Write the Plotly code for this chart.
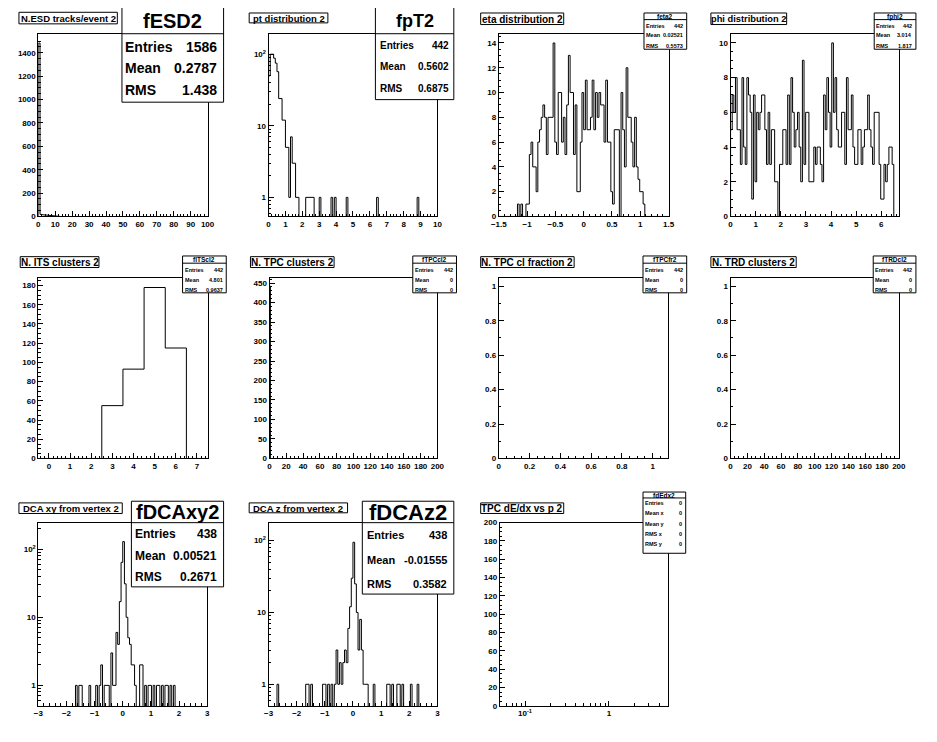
import numpy as np
import plotly.graph_objects as go

# page is shown with an 8 px body margin, so the figure is offset by 8 px
OFF = 8
W, H = 937 - OFF, 742 - OFF
FONT = "Liberation Sans"

# ---------------- values ----------------
# each histogram: (low edge, bin width) and bin contents
esd_bin = (0.0, 1.0)
esd_counts = [1483, 18, 15, 13, 12, 10, 9, 8, 6, 5, 4, 2, 1]

pt_bin = (0.0, 0.1)
pt_counts = [50, 100, 100, 88, 75, 57, 24, 24, 12, 12,
             5, 5, 1, 7, 3, 3, 1, 1, 0, 0,
             0, 0, 1, 1, 1, 1, 1, 0, 0, 0,
             1, 0, 0, 0, 0, 0, 0, 1, 0, 1,
             0, 0, 0, 0, 0, 0, 1, 0, 0, 0,
             0, 0, 0, 0, 0, 0, 0, 0, 0, 0,
             0, 0, 0, 0, 1, 0, 0, 0, 0, 0,
             0, 0, 0, 0, 0, 0, 0, 0, 0, 0,
             0, 0, 0, 0, 0, 0, 0, 0, 1, 0]

eta_bin = (-1.5, 0.03)
eta_counts = [0, 0, 0, 0, 0, 0, 0, 0, 0, 0,
              0, 1, 0, 1, 0, 0, 1, 1, 5, 6,
              4, 4, 2, 6, 7, 8, 9, 8, 5, 8,
              8, 8, 14, 6, 5, 10, 10, 6, 8, 5,
              9, 13, 10, 10, 5, 9, 2, 2, 6, 10,
              7, 11, 7, 7, 8, 11, 7, 10, 8, 10,
              9, 9, 6, 11, 6, 6, 2, 1, 7, 7,
              7, 0, 10, 7, 4, 12, 8, 8, 6, 4,
              8, 4, 3, 2, 2, 1, 0, 0, 0, 0,
              0, 0, 0, 0, 0, 0, 0, 0, 0, 0]

phi_bin = (0.0, 0.065)
phi_counts = [5, 7, 6, 8, 5, 5, 3, 8, 4, 3,
              8, 7, 6, 1, 7, 2, 6, 5, 6, 7,
              7, 5, 3, 6, 3, 5, 5, 2, 2, 0,
              3, 3, 5, 5, 3, 7, 3, 8, 6, 4,
              5, 6, 4, 2, 9, 3, 6, 6, 2, 2,
              2, 4, 3, 4, 4, 3, 2, 7, 5, 8,
              6, 4, 10, 6, 8, 5, 4, 4, 6, 6,
              3, 8, 5, 5, 7, 4, 3, 3, 5, 5,
              3, 4, 5, 5, 7, 5, 4, 3, 6, 6,
              6, 3, 1, 1, 3, 2, 3, 4, 4, 3]

its_bin = (-0.5, 1.0)
its_counts = [0, 0, 0, 55, 93, 178, 115, 0]

tpccl_bin = (0.0, 1.0)
tpccl_counts = [442]

dcaxy_bin = (-3.0, 0.06)
dcaxy_counts = [0, 0, 0, 0, 0, 0, 0, 0, 0, 0,
                0, 0, 0, 0, 0, 0, 0, 0, 0, 0,
                0, 0, 1, 0, 1, 1, 0, 0, 0, 0,
                1, 0, 0, 0, 1, 0, 1, 2, 0, 1,
                1, 1, 0, 3, 1, 1, 6, 4, 17, 64,
                129, 31, 10, 5, 4, 2, 2, 1, 0, 0,
                2, 2, 0, 1, 0, 1, 1, 0, 1, 0,
                1, 1, 0, 1, 0, 1, 1, 0, 1, 0,
                1, 0, 0, 0, 0, 0, 0, 0, 0, 0,
                0, 0, 0, 0, 0, 0, 0, 0, 0, 0]

dcaz_bin = (-3.0, 0.06)
dcaz_counts = [0, 0, 0, 0, 0, 1, 0, 0, 0, 0,
               0, 0, 0, 0, 0, 0, 0, 0, 0, 0,
               0, 0, 1, 1, 0, 1, 0, 0, 0, 0,
               0, 0, 1, 1, 0, 1, 0, 1, 0, 1,
               3, 1, 2, 1, 2, 3, 2, 6, 12, 30,
               95, 25, 10, 3, 8, 3, 1, 1, 1, 0,
               0, 0, 1, 0, 0, 0, 0, 0, 0, 0,
               1, 1, 0, 1, 0, 0, 1, 1, 0, 1,
               0, 0, 0, 0, 1, 0, 0, 0, 1, 0,
               0, 0, 0, 0, 0, 0, 0, 0, 0, 0]

titles = ["N.ESD tracks/event 2", "pt distribution 2", "eta distribution 2",
          "phi distribution 2", "N. ITS clusters 2", "N. TPC clusters 2",
          "N. TPC cl fraction 2", "N. TRD clusters 2", "DCA xy from vertex 2",
          "DCA z from vertex 2", "TPC dE/dx vs p 2"]

stat_names = ["fESD2", "fpT2", "feta2", "fphi2", "fITScl2", "fTPCcl2",
              "fTPCfr2", "fTRDcl2", "fDCAxy2", "fDCAz2", "fdEdx2"]
stat_rows = [
    [("Entries", "1586"), ("Mean", "0.2787"), ("RMS", "1.438")],
    [("Entries", "442"), ("Mean", "0.5602"), ("RMS", "0.6875")],
    [("Entries", "442"), ("Mean", "0.02521"), ("RMS", "0.5573")],
    [("Entries", "442"), ("Mean", "3.014"), ("RMS", "1.817")],
    [("Entries", "442"), ("Mean", "4.801"), ("RMS", "0.9637")],
    [("Entries", "442"), ("Mean", "0"), ("RMS", "0")],
    [("Entries", "442"), ("Mean", "0"), ("RMS", "0")],
    [("Entries", "442"), ("Mean", "0"), ("RMS", "0")],
    [("Entries", "438"), ("Mean", "0.00521"), ("RMS", "0.2671")],
    [("Entries", "438"), ("Mean", "-0.01555"), ("RMS", "0.3582")],
    [("Entries", "0"), ("Mean x", "0"), ("Mean y", "0"), ("RMS x", "0"), ("RMS y", "0")],
]

# ---------------- layout geometry (window pixels) ----------------
frames = [(30.7, 202.7, 30.7, 215), (264.7, 436.3, 30.7, 215),
          (498.7, 671.3, 30.7, 215), (734.3, 905.3, 30.7, 215),
          (30.7, 202.7, 277.3, 460), (265.7, 436.3, 277.3, 460),
          (498.7, 670.7, 277.3, 460), (734.3, 905.3, 277.3, 460),
          (30.7, 202.3, 525, 710.5), (264.7, 436.3, 525, 710.5),
          (499.7, 670.3, 525, 710.5)]

title_boxes = [(11, 8.3, 111, 20, 9.5), (245, 9, 325, 19, 9.5),
               (480.3, 9, 564.7, 20.7, 10), (714.3, 9, 791.3, 20.7, 9.3),
               (12.3, 255.7, 92.3, 266.7, 10), (246.3, 255.7, 331.3, 266.7, 10),
               (480.3, 255.7, 575.3, 266.7, 10), (714.3, 255.7, 801, 266.7, 10),
               (11, 505, 116, 515.7, 9.5), (245, 505, 345, 515, 9.5),
               (480.3, 505, 564.7, 515.7, 10)]

small_rows = lambda y0: [y0 + 12.7, y0 + 22.7, y0 + 33.2]
# box x0,y0,x1,y1, header bottom, header size, row size, row centres, label pad, value pad
stat_boxes = [
    (115.7, 3.3, 219, 99.3, 30, 20, 14, [43, 65, 87.3], 2.5, 6),
    (373.3, 3.3, 453, 96.7, 30, 18, 10, [41.7, 62.7, 85], 4, 4),
    (646.3, 9, 689.7, 45.7, 15.7, 6.5, 5.5, small_rows(9), 1.2, 2.5),
    (880.3, 9, 922.7, 45.7, 15.7, 6.5, 5.5, small_rows(9), 1.2, 2.5),
    (177.3, 255, 221.7, 292.3, 262.3, 6.5, 5.5, small_rows(256.3), 1.2, 2.5),
    (411.3, 255, 455.7, 292.3, 262.3, 6.5, 5.5, small_rows(256.3), 1.2, 2.5),
    (645.3, 255, 689.7, 292.3, 262.3, 6.5, 5.5, small_rows(256.3), 1.2, 2.5),
    (879.3, 255, 922.7, 292.3, 262.3, 6.5, 5.5, small_rows(256.3), 1.2, 2.5),
    (125.3, 503.3, 219, 590, 525, 20, 12, [536.7, 558.3, 580], 2.5, 6),
    (360, 503.3, 453, 597.3, 525, 22, 11, [537.3, 562.3, 586.7], 4, 6),
    (645.3, 494, 688.7, 556, 500, 6.5, 5.5, [505.5, 515.7, 526.3, 536.7, 547], 1.2, 2.5),
]

tickfont = dict(family=FONT, size=8, color="black", weight="bold")


def px_x(p):
    return (p - OFF) / W


def px_y(p):
    return 1 - (p - OFF) / H


def step_xy(bin_spec, counts, floor=0.0):
    lo, w = bin_spec
    c = np.asarray(counts, float)
    c = np.where(c > 0, c, floor)
    edges = lo + w * np.arange(len(c) + 1)
    xs = np.repeat(edges, 2)
    ys = np.concatenate([[floor], np.repeat(c, 2), [floor]])
    return xs, ys


def common_axis(rng):
    return dict(range=rng, ticks="inside", tickcolor="black", tickwidth=1,
                showgrid=False, zeroline=False, showline=True, mirror=True,
                linecolor="black", linewidth=1, tickfont=tickfont)


def lin_axis(rng, dtick, mdtick, ticklen=5):
    a = common_axis(rng)
    a.update(tickmode="linear", tick0=0, dtick=dtick, ticklen=ticklen,
             minor=dict(tick0=0, dtick=mdtick, ticks="inside", ticklen=ticklen / 2,
                        tickcolor="black", tickwidth=1, showgrid=False))
    return a


def log_axis(lo, hi, majors, labels, minors, ticklen=5):
    a = common_axis([np.log10(lo), np.log10(hi)])
    a.update(type="log", tickmode="array", tickvals=majors, ticktext=labels,
             ticklen=ticklen,
             minor=dict(tickmode="array", tickvals=minors, ticks="inside",
                        ticklen=ticklen / 2, tickcolor="black", tickwidth=1,
                        showgrid=False))
    return a


log_minor = [m * d for d in (0.01, 0.1, 1, 10, 100) for m in range(2, 10)]
log_lab = ["1", "10", "10<sup>2</sup>"]

xaxes = [
    lin_axis([0, 100], 10, 2),
    lin_axis([0, 10], 1, 0.2),
    lin_axis([-1.5, 1.5], 0.5, 0.1),
    lin_axis([0, 6.7], 1, 0.2),
    lin_axis([-0.5, 7.5], 1, 0.2),
    lin_axis([0, 200], 20, 5),
    lin_axis([0, 1.1], 0.2, 0.05),
    lin_axis([0, 200], 20, 5),
    lin_axis([-3, 3], 1, 0.2),
    lin_axis([-3, 3], 1, 0.2),
    log_axis(0.05, 5, [0.1, 1], ["10<sup>-1</sup>", "1"], log_minor),
]
yaxes = [
    lin_axis([0, 1557], 200, 50),
    log_axis(0.541, 189, [1, 10, 100], log_lab, log_minor),
    lin_axis([0, 14.69], 2, 0.5),
    lin_axis([0, 10.49], 2, 0.5),
    lin_axis([0, 187.9], 20, 5),
    lin_axis([0, 463], 50, 10),
    lin_axis([0, 1.048], 0.2, 0.1),
    lin_axis([0, 1.048], 0.2, 0.1),
    log_axis(0.5, 245, [1, 10, 100], log_lab, log_minor),
    log_axis(0.5, 178, [1, 10, 100], log_lab, log_minor),
    lin_axis([0, 200], 20, 5),
]

hists = {
    1: (esd_bin, esd_counts, 0.0),
    2: (pt_bin, pt_counts, 1e-3),
    3: (eta_bin, eta_counts, 0.0),
    4: (phi_bin, phi_counts, 0.0),
    5: (its_bin, its_counts, 0.0),
    6: (tpccl_bin, tpccl_counts, 0.0),
    9: (dcaxy_bin, dcaxy_counts, 1e-3),
    10: (dcaz_bin, dcaz_counts, 1e-3),
}

fig = go.Figure()
layout = {}
for i in range(1, 12):
    sx = "" if i == 1 else str(i)
    x0, x1, y0, y1 = frames[i - 1]
    xa = xaxes[i - 1]
    ya = yaxes[i - 1]
    xa.update(domain=[px_x(x0), px_x(x1)], anchor="y" + sx)
    ya.update(domain=[px_y(y1), px_y(y0)], anchor="x" + sx)
    layout["xaxis" + sx] = xa
    layout["yaxis" + sx] = ya
    if i in hists:
        b, c, fl = hists[i]
        xs, ys = step_xy(b, c, fl)
    else:
        xs, ys = [None], [None]
    fig.add_trace(go.Scatter(x=xs, y=ys, mode="lines", xaxis="x" + sx, yaxis="y" + sx,
                             line=dict(color="black", width=1), hoverinfo="skip",
                             showlegend=False))

shapes = []
annotations = []


def rect(x0, y0, x1, y1):
    shapes.append(dict(type="rect", xref="paper", yref="paper",
                       x0=px_x(x0), x1=px_x(x1), y0=px_y(y1), y1=px_y(y0),
                       line=dict(color="black", width=1), fillcolor="white", layer="above"))


def hline(x0, x1, y):
    shapes.append(dict(type="line", xref="paper", yref="paper",
                       x0=px_x(x0), x1=px_x(x1), y0=px_y(y), y1=px_y(y),
                       line=dict(color="black", width=1), layer="above"))


def text(x, y, s, size, anchor="left"):
    annotations.append(dict(xref="paper", yref="paper", x=px_x(x), y=px_y(y), text=s,
                            showarrow=False, xanchor=anchor, yanchor="middle",
                            borderpad=0,
                            font=dict(family=FONT, size=size, color="black",
                                      weight="bold")))


for i in range(11):
    tx0, ty0, tx1, ty1, tsz = title_boxes[i]
    rect(tx0, ty0, tx1, ty1)
    text((tx0 + tx1) / 2, (ty0 + ty1) / 2 + 0.3, titles[i], tsz, "center")

    bx0, by0, bx1, by1, hb, hsz, rsz, rys, lpad, vpad = stat_boxes[i]
    rect(bx0, by0, bx1, by1)
    hline(bx0, bx1, hb)
    text((bx0 + bx1) / 2, (by0 + hb) / 2 + 0.3, stat_names[i], hsz, "center")
    for (lab, val), yc in zip(stat_rows[i], rys):
        text(bx0 + lpad, yc, lab, rsz, "left")
        text(bx1 - vpad, yc, val, rsz, "right")

fig.update_layout(**layout)
fig.update_layout(width=W, height=H, autosize=False,
                  margin=dict(l=0, r=0, t=0, b=0),
                  paper_bgcolor="white", plot_bgcolor="white",
                  shapes=shapes, annotations=annotations,
                  font=dict(family=FONT, color="black"))

fig.write_html("out.html")
